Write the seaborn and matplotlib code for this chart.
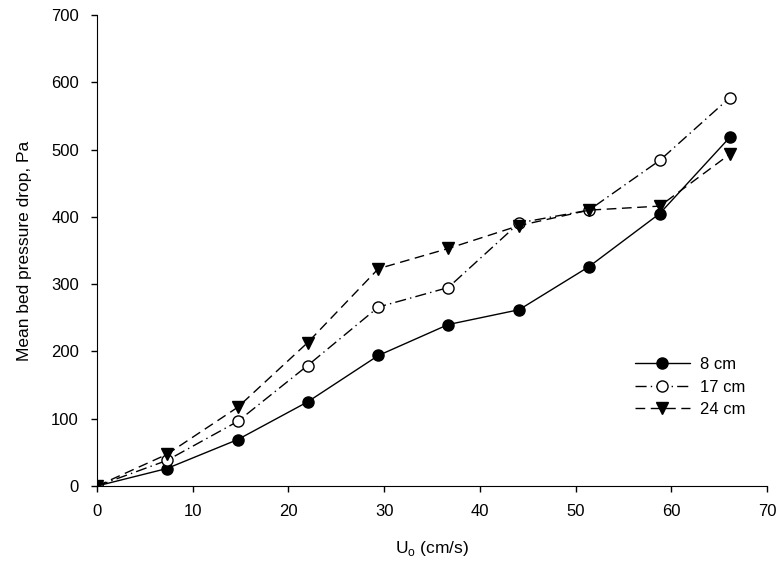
import matplotlib
matplotlib.use('Agg')
import matplotlib.pyplot as plt
import seaborn as sns
import pandas as pd

# ── data ─────────────────────────────────────────────────────────────────────
u0 = [0, 7.3, 14.7, 22.0, 29.4, 36.7, 44.1, 51.4, 58.8, 66.1]
dp_8cm = [0, 26, 69, 125, 194, 240, 262, 326, 405, 518]
dp_17cm = [0, 38, 96, 179, 266, 295, 391, 410, 484, 577]
dp_24cm = [0, 47, 117, 213, 323, 353, 387, 410, 416, 493]
labels = ['8 cm', '17 cm', '24 cm']

sns.set_style('ticks')
plt.rcParams['font.family'] = ['Liberation Sans', 'DejaVu Sans']
plt.rcParams['text.color'] = 'black'
plt.rcParams['axes.labelcolor'] = 'black'
plt.rcParams['xtick.color'] = 'black'
plt.rcParams['ytick.color'] = 'black'
plt.rcParams['axes.edgecolor'] = 'black'

fig = plt.figure(figsize=(7.79, 5.66), dpi=100)
ax = fig.add_axes([0.1245, 0.1413, 0.8601, 0.8322])

styles = [
    dict(marker='o', mfc='black', ls='-'),
    dict(marker='o', mfc='white', ls=(0, (8, 3, 1, 3))),
    dict(marker='v', mfc='black', ls=(0, (7, 4))),
]
for vals, lab, st in zip([dp_8cm, dp_17cm, dp_24cm], labels, styles):
    df = pd.DataFrame({'U0': u0, 'dP': vals})
    sns.lineplot(data=df, x='U0', y='dP', ax=ax, color='black', lw=1.0,
                 linestyle=st['ls'], marker=st['marker'], markersize=8,
                 markerfacecolor=st['mfc'], markeredgecolor='black',
                 markeredgewidth=1.0, label=lab)

ax.set_xlim(0, 70)
ax.set_ylim(0, 700)
ax.set_xticks(range(0, 71, 10))
ax.set_yticks(range(0, 701, 100))
ax.tick_params(labelsize=12, direction='out', length=4, width=1)
ax.tick_params(axis='x', pad=9)
ax.tick_params(axis='y', pad=9)
ax.set_xlabel('U$_\\mathregular{o}$ (cm/s)', fontsize=12.5, labelpad=14)
ax.set_ylabel('Mean bed pressure drop, Pa', fontsize=12.5, labelpad=14)
for s in ['top', 'right']:
    ax.spines[s].set_visible(False)

ax.legend(loc='center left', bbox_to_anchor=(0.78, 0.21), frameon=False,
          fontsize=12, handlelength=3.3, handletextpad=0.6, labelspacing=0.45)

fig.savefig('out.png', dpi=100)
